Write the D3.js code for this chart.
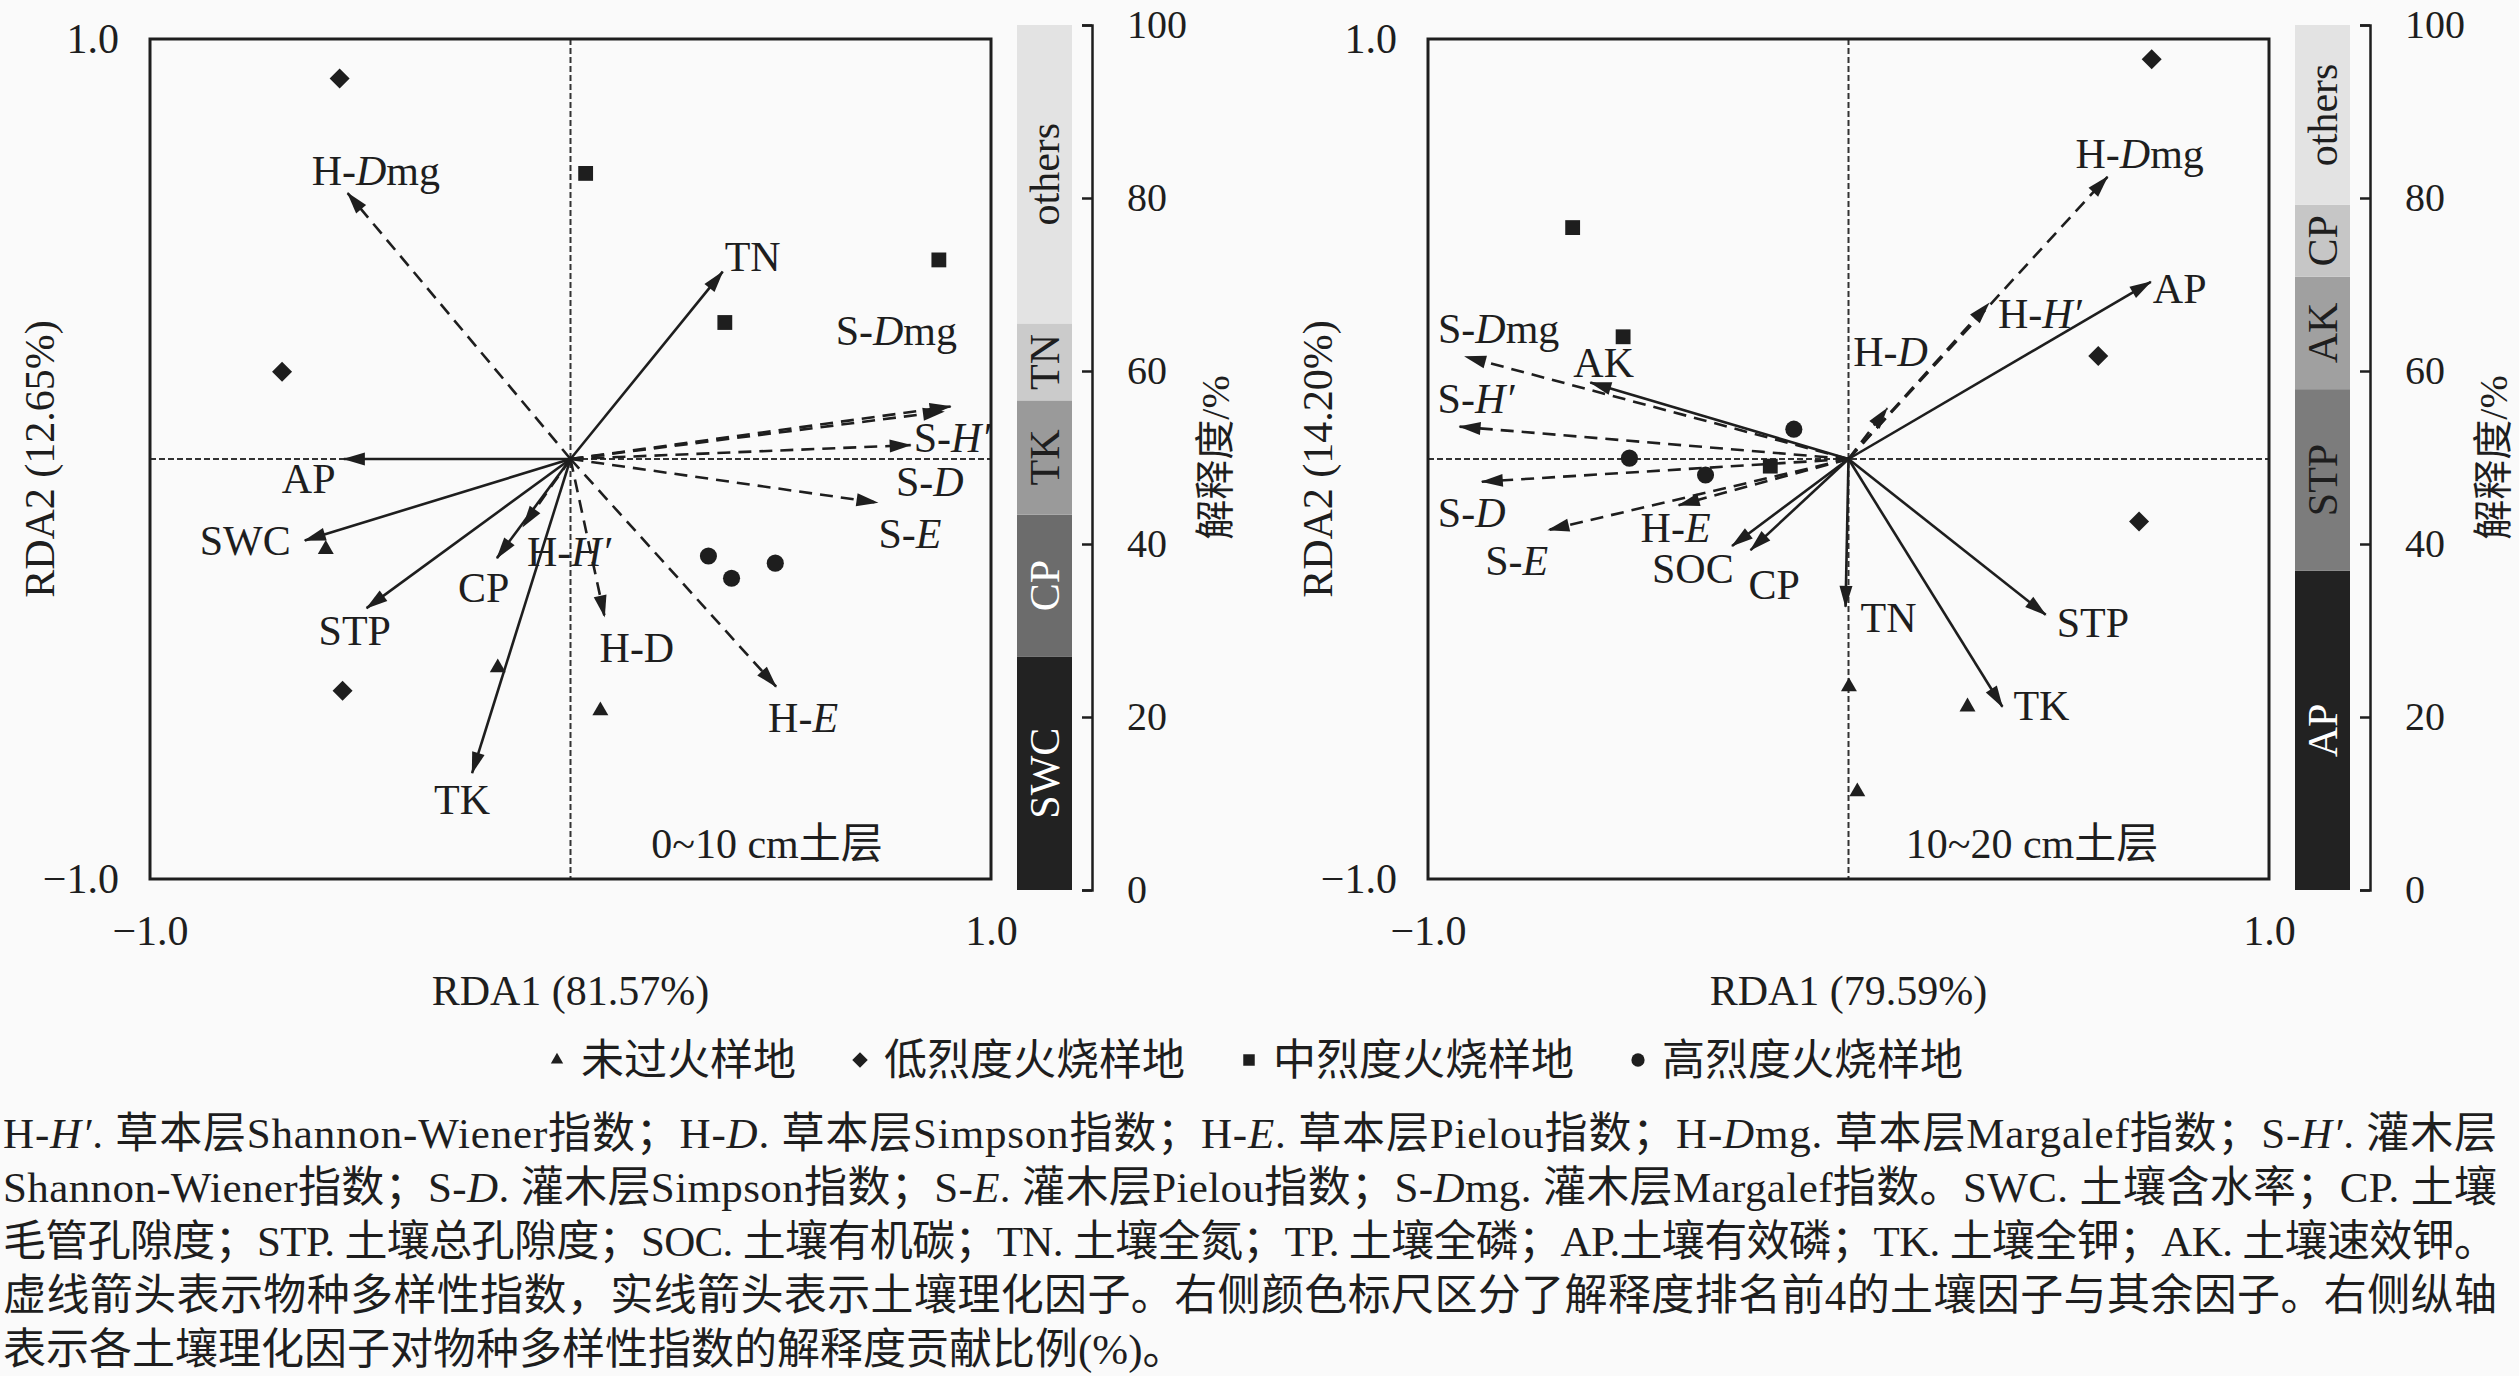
<!DOCTYPE html>
<html>
<head>
<meta charset="utf-8">
<script src="https://cdn.jsdelivr.net/npm/d3@7"></script>
<style>
  body { margin: 0; background: #fafafa; }
  text { font-family: 'Liberation Serif', 'Times New Roman', 'Noto Sans CJK SC', serif; fill: #1e1e1e; }
</style>
</head>
<body>
<div id="viz"></div>
<script>
const width = 2519;
const height = 1376;
const fontSize = 42;

// ---- data ----
const siteTypes = ['unburned', 'low', 'medium', 'high'];
const siteNames = ['未过火样地', '低烈度火烧样地', '中烈度火烧样地', '高烈度火烧样地'];

// sample scores, 0~10 cm
const sites0 = [
  {type: 'unburned', x: -0.582, y: -0.215}, {type: 'unburned', x: -0.173, y: -0.497}, {type: 'unburned', x: 0.071, y: -0.599},
  {type: 'low', x: -0.549, y: 0.906}, {type: 'low', x: -0.686, y: 0.208}, {type: 'low', x: -0.542, y: -0.552},
  {type: 'medium', x: 0.036, y: 0.680}, {type: 'medium', x: 0.876, y: 0.474}, {type: 'medium', x: 0.367, y: 0.325},
  {type: 'high', x: 0.328, y: -0.231}, {type: 'high', x: 0.383, y: -0.284}, {type: 'high', x: 0.487, y: -0.248}
];
// sample scores, 10~20 cm
const sites1 = [
  {type: 'unburned', x: 0.001, y: -0.542}, {type: 'unburned', x: 0.283, y: -0.590}, {type: 'unburned', x: 0.021, y: -0.792},
  {type: 'low', x: 0.721, y: 0.952}, {type: 'low', x: 0.594, y: 0.245}, {type: 'low', x: 0.691, y: -0.149},
  {type: 'medium', x: -0.656, y: 0.551}, {type: 'medium', x: -0.536, y: 0.291}, {type: 'medium', x: -0.186, y: -0.017},
  {type: 'high', x: -0.130, y: 0.071}, {type: 'high', x: -0.521, y: 0.002}, {type: 'high', x: -0.340, y: -0.038}
];

// arrows: soil = solid, div = dashed
const arrows0 = [
  {name: 'TN', label: 'TN', type: 'soil', x: 0.362, y: 0.446},
  {name: 'AP', label: 'AP', type: 'soil', x: -0.539, y: 0.0},
  {name: 'SWC', label: 'SWC', type: 'soil', x: -0.632, y: -0.194},
  {name: 'STP', label: 'STP', type: 'soil', x: -0.485, y: -0.355},
  {name: 'CP', label: 'CP', type: 'soil', x: -0.175, y: -0.236},
  {name: 'TK', label: 'TK', type: 'soil', x: -0.234, y: -0.748},
  {name: 'H-Dmg', label: 'H-<i>D</i>mg', type: 'div', x: -0.530, y: 0.633},
  {name: 'H-H', label: 'H-<i>H′</i>', type: 'div', x: -0.113, y: -0.161},
  {name: 'H-D', label: 'H-D', type: 'div', x: 0.081, y: -0.375},
  {name: 'H-E', label: 'H-<i>E</i>', type: 'div', x: 0.489, y: -0.542},
  {name: 'S-E', label: 'S-<i>E</i>', type: 'div', x: 0.730, y: -0.104},
  {name: 'S-H', label: 'S-<i>H′</i>', type: 'div', x: 0.809, y: 0.033},
  {name: 'S-D', label: 'S-<i>D</i>', type: 'div', x: 0.888, y: 0.113},
  {name: 'S-Dmg', label: 'S-<i>D</i>mg', type: 'div', x: 0.904, y: 0.125}
];
const arrows1 = [
  {name: 'AP', label: 'AP', type: 'soil', x: 0.719, y: 0.422},
  {name: 'AK', label: 'AK', type: 'soil', x: -0.614, y: 0.182},
  {name: 'SOC', label: 'SOC', type: 'soil', x: -0.277, y: -0.207},
  {name: 'CP', label: 'CP', type: 'soil', x: -0.233, y: -0.217},
  {name: 'TN', label: 'TN', type: 'soil', x: -0.007, y: -0.352},
  {name: 'STP', label: 'STP', type: 'soil', x: 0.469, y: -0.371},
  {name: 'TK', label: 'TK', type: 'soil', x: 0.366, y: -0.590},
  {name: 'H-Dmg', label: 'H-<i>D</i>mg', type: 'div', x: 0.616, y: 0.672},
  {name: 'H-H', label: 'H-<i>H′</i>', type: 'div', x: 0.334, y: 0.371},
  {name: 'H-D', label: 'H-<i>D</i>', type: 'div', x: 0.092, y: 0.121},
  {name: 'S-Dmg', label: 'S-<i>D</i>mg', type: 'div', x: -0.912, y: 0.244},
  {name: 'S-H', label: 'S-<i>H′</i>', type: 'div', x: -0.925, y: 0.077},
  {name: 'S-D', label: 'S-<i>D</i>', type: 'div', x: -0.872, y: -0.054},
  {name: 'S-E', label: 'S-<i>E</i>', type: 'div', x: -0.714, y: -0.169},
  {name: 'H-E', label: 'H-<i>E</i>', type: 'div', x: -0.404, y: -0.110}
];

// explained share (%) of the top 4 soil factors and the rest
const factors0 = ['SWC', 'CP', 'TK', 'TN', 'others'];
const shares0 = [27.0, 16.4, 13.2, 8.9, 34.5];
const factors1 = ['AP', 'STP', 'AK', 'CP', 'others'];
const shares1 = [36.9, 21.0, 13.0, 8.3, 20.8];

const barTicks = [0, 20, 40, 60, 80, 100];
const rdaTicks = [-1, 1];

const captionLines = [
  'H-<i>H′</i>. 草本层Shannon-Wiener指数；H-<i>D</i>. 草本层Simpson指数；H-<i>E</i>. 草本层Pielou指数；H-<i>D</i>mg. 草本层Margalef指数；S-<i>H′</i>. 灌木层',
  'Shannon-Wiener指数；S-<i>D</i>. 灌木层Simpson指数；S-<i>E</i>. 灌木层Pielou指数；S-<i>D</i>mg. 灌木层Margalef指数。SWC. 土壤含水率；CP. 土壤',
  '毛管孔隙度；STP. 土壤总孔隙度；SOC. 土壤有机碳；TN. 土壤全氮；TP. 土壤全磷；AP.土壤有效磷；TK. 土壤全钾；AK. 土壤速效钾。',
  '虚线箭头表示物种多样性指数，实线箭头表示土壤理化因子。右侧颜色标尺区分了解释度排名前4的土壤因子与其余因子。右侧纵轴',
  '表示各土壤理化因子对物种多样性指数的解释度贡献比例(%)。'
];

// ---- layout ----
// label offsets from arrow tips (px)
const offsets0 = {
  'TN': [2, -1], 'AP': [-62, 34], 'SWC': [-105, 15], 'STP': [-48, 37], 'CP': [-39, 44], 'TK': [-38, 41],
  'H-Dmg': [-36, -8], 'H-H': [4, 39], 'H-D': [-5, 45], 'H-E': [-8, 45], 'S-E': [1, 45], 'S-H': [3, 7],
  'S-D': [-48, 84], 'S-Dmg': [-115, -62]
};
const offsets1 = {
  'AP': [2, 21], 'AK': [-17, -6], 'SOC': [-80, 37], 'CP': [-2, 49], 'TN': [15, 25], 'STP': [11, 22], 'TK': [11, 13],
  'H-Dmg': [-32, -9], 'H-H': [9, 25], 'H-D': [-34, -42], 'S-Dmg': [-27, -14], 'S-H': [-22, -14],
  'S-D': [-44, 45], 'S-E': [-63, 45], 'H-E': [-38, 37]
};
const grays0 = ['#222222', '#6c6c6c', '#9a9a9a', '#cbcbcb', '#e3e3e3'];
const grays1 = ['#222222', '#7c7c7c', '#a0a0a0', '#c6c6c6', '#e3e3e3'];

const panels = [
  {sites: sites0, arrows: arrows0, offsets: offsets0, factors: factors0, shares: shares0, grays: grays0,
   xTitle: 'RDA1 (81.57%)', yTitle: 'RDA2 (12.65%)', layer: '0~10 cm土层', layerX: 617, dx: 0},
  {sites: sites1, arrows: arrows1, offsets: offsets1, factors: factors1, shares: shares1, grays: grays1,
   xTitle: 'RDA1 (79.59%)', yTitle: 'RDA2 (14.20%)', layer: '10~20 cm土层', layerX: 604, dx: 1278}
];

const frame = {left: 150, width: 841, top: 39, bottom: 879};
const bar = {left: 1017, width: 55, axisX: 1092, top: 25, bottom: 890};

const symbols = {
  unburned: {type: d3.symbolTriangle, size: 110, rotate: 0},
  low: {type: d3.symbolSquare, size: 200, rotate: 45},
  medium: {type: d3.symbolSquare, size: 220, rotate: 0},
  high: {type: d3.symbolCircle, size: 230, rotate: 0}
};

const svg = d3.select('#viz')
  .append('svg')
    .attr('width', width)
    .attr('height', height)
    .style('background', '#fafafa');

svg.append('defs')
  .append('marker')
    .attr('id', 'head')
    .attr('viewBox', '-24 -9 26 18')
    .attr('markerWidth', 26)
    .attr('markerHeight', 18)
    .attr('refX', 0)
    .attr('refY', 0)
    .attr('markerUnits', 'userSpaceOnUse')
    .attr('orient', 'auto')
  .append('path')
    .attr('d', 'M1,0L-21,-6.5L-21,6.5Z')
    .attr('fill', '#1e1e1e');

// text with <i>..</i> parts in italic
const richText = (sel, markup) => {
  markup.split(/(<i>.*?<\/i>)/).filter(s => s).forEach(part => {
    const it = part.startsWith('<i>');
    sel.append('tspan')
      .text(it ? part.slice(3, -4) : part)
      .attr('font-style', it ? 'italic' : null);
  });
};

panels.forEach(p => {
  const x0 = frame.left + p.dx;
  const xScale = d3.scaleLinear().domain([-1, 1]).range([x0, x0 + frame.width]);
  const yScale = d3.scaleLinear().domain([-1, 1]).range([frame.bottom, frame.top]);
  const g = svg.append('g');

  // zero lines
  g.append('line')
    .attr('x1', xScale(0)).attr('x2', xScale(0))
    .attr('y1', frame.top).attr('y2', frame.bottom)
    .attr('stroke', '#333').attr('stroke-width', 2).attr('stroke-dasharray', '6,3');
  g.append('line')
    .attr('x1', x0).attr('x2', x0 + frame.width)
    .attr('y1', yScale(0)).attr('y2', yScale(0))
    .attr('stroke', '#333').attr('stroke-width', 2).attr('stroke-dasharray', '6,3');

  // frame
  g.append('rect')
    .attr('x', x0).attr('y', frame.top)
    .attr('width', frame.width).attr('height', frame.bottom - frame.top)
    .attr('fill', 'none').attr('stroke', '#1e1e1e').attr('stroke-width', 3);

  // arrows
  g.append('g')
    .selectAll('line')
    .data(p.arrows)
    .join('line')
      .attr('x1', xScale(0))
      .attr('y1', yScale(0))
      .attr('x2', d => xScale(d.x))
      .attr('y2', d => yScale(d.y))
      .attr('stroke', '#1e1e1e')
      .attr('stroke-width', 2.6)
      .attr('stroke-dasharray', d => d.type === 'div' ? '13,8' : null)
      .attr('marker-end', 'url(#head)');

  // samples
  g.append('g')
    .selectAll('path')
    .data(p.sites)
    .join('path')
      .attr('d', d => d3.symbol().type(symbols[d.type].type).size(symbols[d.type].size)())
      .attr('transform', d => `translate(${xScale(d.x)},${yScale(d.y)}) rotate(${symbols[d.type].rotate})`)
      .attr('fill', '#1e1e1e');

  // arrow labels
  g.append('g')
    .selectAll('text')
    .data(p.arrows)
    .join('text')
      .attr('x', d => xScale(d.x) + p.offsets[d.name][0])
      .attr('y', d => yScale(d.y) + p.offsets[d.name][1])
      .attr('font-size', fontSize)
      .each(function(d) { richText(d3.select(this), d.label); });

  // layer label
  g.append('text')
    .attr('x', x0 + p.layerX)
    .attr('y', 858)
    .attr('text-anchor', 'middle')
    .attr('font-size', fontSize)
    .text(p.layer);

  // axes
  const fmt = d3.format('.1f');
  const yAxisGroup = g.append('g')
    .attr('transform', `translate(${x0},0)`)
    .call(d3.axisLeft(yScale).tickValues(rdaTicks).tickSize(0).tickPadding(31).tickFormat(fmt));
  const xAxisGroup = g.append('g')
    .attr('transform', `translate(0,${frame.bottom})`)
    .call(d3.axisBottom(xScale).tickValues(rdaTicks).tickSize(0).tickPadding(36).tickFormat(fmt));
  [yAxisGroup, xAxisGroup].forEach(a => {
    a.select('.domain').remove();
    a.attr('font-size', fontSize).attr('font-family', null);
  });

  g.append('text')
    .attr('x', xScale(0))
    .attr('y', 1005)
    .attr('text-anchor', 'middle')
    .attr('font-size', fontSize)
    .text(p.xTitle);
  g.append('text')
    .attr('transform', `translate(${54 + p.dx},${yScale(0)}) rotate(-90)`)
    .attr('text-anchor', 'middle')
    .attr('font-size', fontSize)
    .text(p.yTitle);

  // explained share bar
  const barScale = d3.scaleLinear().domain([0, 100]).range([bar.bottom, bar.top]);
  let acc = 0;
  const segs = p.factors.map((f, i) => {
    const s = {name: f, y0: acc, y1: acc + p.shares[i], color: p.grays[i]};
    acc += p.shares[i];
    return s;
  });
  const bx = bar.left + p.dx;
  g.append('g')
    .selectAll('rect')
    .data(segs)
    .join('rect')
      .attr('x', bx)
      .attr('width', bar.width)
      .attr('y', d => barScale(d.y1))
      .attr('height', d => barScale(d.y0) - barScale(d.y1))
      .attr('fill', d => d.color);
  g.append('g')
    .selectAll('text')
    .data(segs)
    .join('text')
      .attr('transform', d => `translate(${bx + bar.width / 2 + 14},${barScale((d.y0 + d.y1) / 2)}) rotate(-90)`)
      .attr('text-anchor', 'middle')
      .attr('font-size', fontSize)
      .style('fill', d => d3.hsl(d.color).l < 0.45 ? '#ffffff' : '#1e1e1e')
      .text(d => d.name);

  const barAxis = g.append('g')
    .attr('transform', `translate(${bar.axisX + p.dx},0)`)
    .call(d3.axisRight(barScale).tickValues(barTicks).tickSize(-10).tickPadding(35));
  barAxis.attr('font-size', 40).attr('font-family', null);
  barAxis.selectAll('path, line').attr('stroke', '#1e1e1e').attr('stroke-width', 2.5);

  g.append('text')
    .attr('transform', `translate(${1229 + p.dx},${barScale(50)}) rotate(-90)`)
    .attr('text-anchor', 'middle')
    .attr('font-size', 40)
    .text('解释度/%');
});

// legend
const legend = svg.append('g').attr('transform', 'translate(0,1060)');
let lx = 557;
siteTypes.forEach((t, i) => {
  const s = symbols[t];
  legend.append('path')
    .attr('d', d3.symbol().type(s.type).size(s.size * 0.6)())
    .attr('transform', `translate(${lx},0) rotate(${s.rotate})`)
    .attr('fill', '#1e1e1e');
  const txt = legend.append('text')
    .attr('x', lx + 24)
    .attr('y', 0)
    .attr('dominant-baseline', 'central')
    .attr('font-size', 43)
    .text(siteNames[i]);
  lx += 24 + txt.node().getComputedTextLength() + 64;
});

// caption
svg.append('g')
  .selectAll('text')
  .data(captionLines)
  .join('text')
    .attr('x', 3)
    .attr('y', (d, i) => 1148 + i * 54)
    .attr('font-size', 43)
    .each(function(d, i) {
      const t = d3.select(this);
      richText(t, d);
      if (i < captionLines.length - 1) {
        t.attr('textLength', 2494).attr('lengthAdjust', 'spacing');
      }
    });
</script>
</body>
</html>
